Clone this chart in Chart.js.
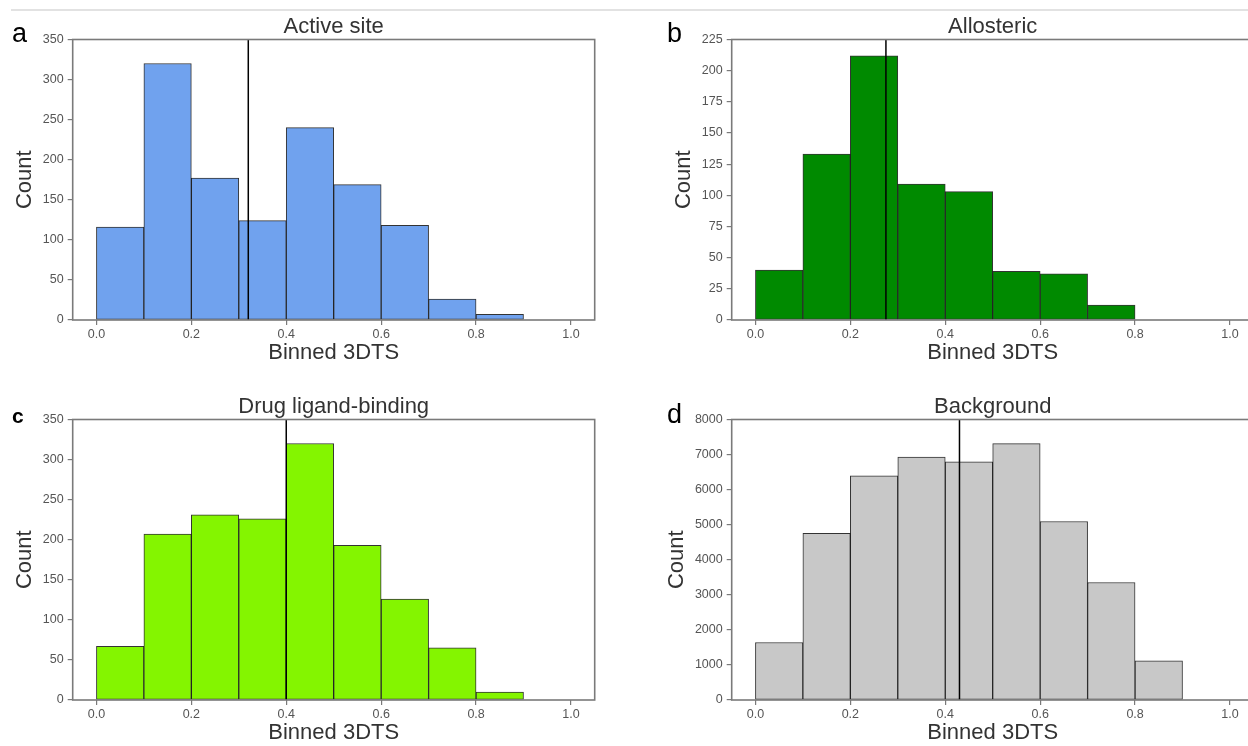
<!DOCTYPE html>
<html>
<head>
<meta charset="utf-8">
<script src="https://cdn.jsdelivr.net/npm/chart.js@4.4.1/dist/chart.umd.min.js"></script>
<style>
  html, body { margin: 0; padding: 0; background: #fff; }
  #page { position: relative; width: 1248px; height: 746px; overflow: hidden; font-family: "Liberation Sans", Arial, sans-serif; }
  .rule { position: absolute; left: 11px; top: 9px; width: 1237px; height: 2px; background: #e2e2e2; }
  canvas { position: absolute; }
  .letter { position: absolute; font-size: 27px; line-height: 27px; color: #000; }
</style>
</head>
<body>
<div id="page">
  <div class="rule"></div>
  <canvas id="panelA" width="620" height="370" style="left:0;top:0"></canvas>
  <canvas id="panelB" width="620" height="370" style="left:659px;top:0"></canvas>
  <canvas id="panelC" width="620" height="370" style="left:0;top:380px"></canvas>
  <canvas id="panelD" width="627" height="370" style="left:652px;top:380px"></canvas>
  <div class="letter" style="left:12px;top:20px">a</div>
  <div class="letter" style="left:667px;top:20px">b</div>
  <div class="letter" style="left:12px;top:405px;font-size:21px;line-height:21px;font-weight:bold">c</div>
  <div class="letter" style="left:667px;top:401px">d</div>
</div>
<script>
// Histogram bins (left edges), width 0.1
const binStarts = [0.0, 0.1, 0.2, 0.3, 0.4, 0.5, 0.6, 0.7, 0.8, 0.9];
const binWidth = 0.1;
const xTicks = [0.0, 0.2, 0.4, 0.6, 0.8, 1.0];

// Counts per bin
const activeCounts = [116, 320, 177, 124, 240, 169, 118, 26, 7, 0];
const allostericCounts = [40, 133, 212, 109, 103, 39, 37, 12, 0, 0];
const drugCounts = [67, 207, 231, 226, 320, 193, 126, 65, 10, 0];
const backgroundCounts = [1640, 4750, 6390, 6930, 6790, 7310, 5090, 3350, 1120, 0];

// Vertical marker line position for each panel
const activeMarker = 0.32;
const allostericMarker = 0.275;
const drugMarker = 0.40;
const backgroundMarker = 0.43;

// y tick labels
const countTicks350 = [0, 50, 100, 150, 200, 250, 300, 350];
const countTicks225 = [0, 25, 50, 75, 100, 125, 150, 175, 200, 225];
const countTicks8000 = [0, 1000, 2000, 3000, 4000, 5000, 6000, 7000, 8000];

const FONT = '"Liberation Sans", Arial, sans-serif';

// box round the plot area
const framePlugin = {
  id: 'frame',
  afterDatasetsDraw(chart) {
    const {ctx, chartArea: a} = chart;
    ctx.save();
    ctx.strokeStyle = '#7a7a7a';
    ctx.lineWidth = 1.6;
    ctx.strokeRect(a.left, a.top, a.right - a.left, a.bottom - a.top);
    ctx.restore();
  }
};

// title centred over the plot area
const panelTitle = {
  id: 'panelTitle',
  afterDraw(chart, args, opts) {
    const {ctx, chartArea: a} = chart;
    ctx.save();
    ctx.font = '22px ' + FONT;
    ctx.fillStyle = '#333';
    ctx.textAlign = 'center';
    ctx.textBaseline = 'alphabetic';
    ctx.fillText(opts.text, (a.left + a.right) / 2, a.top - 6.5);
    ctx.restore();
  }
};

function makePanel(id, title, counts, color, marker, yMax, yTicks, yWidth, areaRight) {
  const canvas = document.getElementById(id);
  const grid = { display: true, drawOnChartArea: false, drawTicks: true, tickLength: 5, color: '#7a7a7a', lineWidth: 1.2, offset: false };
  new Chart(canvas, {
    type: 'bar',
    data: {
      datasets: [
        {
          type: 'line',
          data: [{x: marker, y: 0}, {x: marker, y: yMax}],
          borderColor: '#000',
          borderWidth: 1.5,
          pointRadius: 0,
          order: 0
        },
        {
          type: 'bar',
          data: binStarts.map((s, i) => ({x: s + binWidth / 2, y: counts[i]})),
          backgroundColor: color,
          borderColor: 'rgba(0,0,0,0.8)',
          borderWidth: 1,
          borderSkipped: false,
          barPercentage: 1,
          categoryPercentage: 1,
          order: 1
        }
      ]
    },
    options: {
      responsive: false,
      animation: false,
      devicePixelRatio: 1,
      layout: { padding: { left: 0, top: 39.5, right: canvas.width - areaRight, bottom: 0 } },
      plugins: {
        legend: { display: false },
        tooltip: { enabled: false },
        panelTitle: { text: title }
      },
      scales: {
        x: {
          type: 'linear',
          min: -0.05,
          max: 1.05,
          offset: false,
          afterBuildTicks: s => { s.ticks = xTicks.map(v => ({value: v})); },
          afterFit: s => { s.height = 50; },
          grid: grid,
          border: { display: false },
          ticks: { color: '#555', font: { size: 12.5, family: FONT }, padding: 2, maxRotation: 0, autoSkip: false, callback: v => Number(v).toFixed(1) },
          title: { display: true, text: 'Binned 3DTS', color: '#333', font: { size: 22, family: FONT }, padding: { top: 0, bottom: 4 } }
        },
        y: {
          min: 0,
          max: yMax,
          afterBuildTicks: s => { s.ticks = yTicks.map(v => ({value: v})); },
          afterFit: s => { s.width = yWidth; },
          grid: grid,
          border: { display: false },
          ticks: { color: '#555', font: { size: 12.5, family: FONT }, padding: 4, autoSkip: false, callback: v => String(v) },
          title: { display: true, text: 'Count', color: '#333', font: { size: 22, family: FONT }, padding: { top: 12, bottom: 0 } }
        }
      }
    },
    plugins: [framePlugin, panelTitle]
  });
}

makePanel('panelA', 'Active site', activeCounts, 'rgb(112,162,238)', activeMarker, 350, countTicks350, 72.7, 594.7);
makePanel('panelB', 'Allosteric', allostericCounts, '#008a00', allostericMarker, 225, countTicks225, 72.7, 594.7);
makePanel('panelC', 'Drug ligand-binding', drugCounts, '#84f500', drugMarker, 350, countTicks350, 72.7, 594.7);
makePanel('panelD', 'Background', backgroundCounts, '#c8c8c8', backgroundMarker, 8000, countTicks8000, 79.7, 601.7);
</script>
</body>
</html>
